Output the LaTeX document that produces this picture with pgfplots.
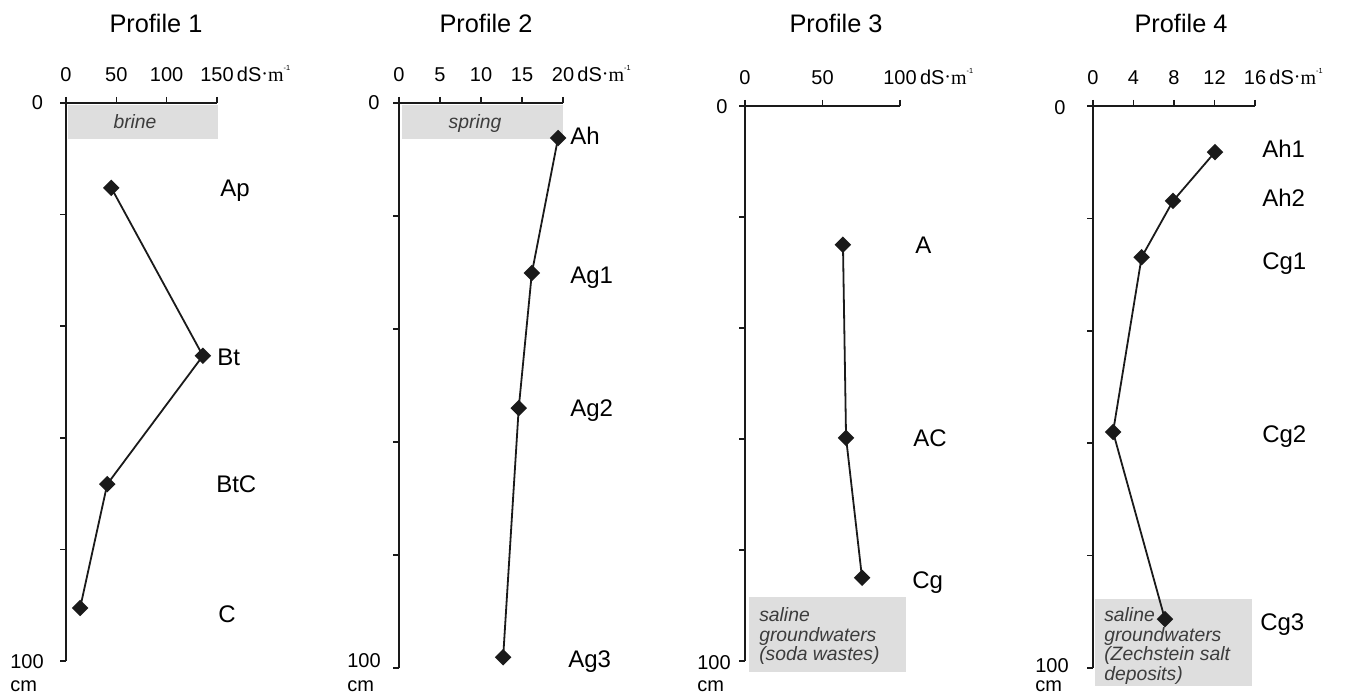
\documentclass[border=0pt]{standalone}
\usepackage{pgfplots}
\pgfplotsset{compat=1.18}
\usepackage{fontspec}
\setmainfont{Liberation Sans}
\newfontfamily\serifm{Liberation Serif}
\definecolor{boxgray}{HTML}{DEDEDE}
\definecolor{txtgray}{HTML}{3C3C3C}
\definecolor{ink}{HTML}{1A1A1A}
\newcommand{\unitlab}{\rlap{\hspace{2.5pt}dS{\serifm\raisebox{0.1ex}{·}m}\raisebox{1.0ex}{\fontsize{5.5}{5.5}\selectfont -1}}}
\newcommand{\lab}{\fontsize{18}{18}\selectfont}
\newcommand{\tlab}{\fontsize{15}{15}\selectfont}
\newcommand{\ttl}{\fontsize{19}{19}\selectfont}
\newcommand{\boxt}{\fontsize{14.5}{14.6}\selectfont\itshape\color{txtgray}}
\pgfplotsset{
  prof/.style={
    scale only axis, clip=false, enlargelimits=false,
    axis x line=top, axis y line=left,
    axis line style={-, ink, line width=1.2pt},
    ymin=-100, ymax=0,
    tick align=outside, major tick length=4.5pt,
    every tick/.style={ink, line width=1.2pt},
    ytick={-100,-80,-60,-40,-20,0}, yticklabels={},
    xticklabel style={font=\tlab, yshift=8pt},
  },
  dat/.style={ink, line width=1.35pt, mark=square*, mark size=3.7pt,
    mark options={rotate=45, solid, fill=ink}},
  bx/.style={fill=boxgray, draw=none, mark=none, forget plot},
}
\begin{document}
\begin{tikzpicture}
\useasboundingbox (0,0) rectangle (1345*0.75pt,-695*0.75pt);
% Profile 1
\begin{axis}[prof, at={(66*0.75pt,-103*0.75pt)}, anchor=north west,
  width=113.25pt, height=418.5pt,
  xmin=0, xmax=150, xtick={0,50,100,150}, xticklabels={0,50,100,{150\unitlab}}]
\addplot[bx] coordinates {(2,-0.36) (151,-0.36) (151,-6.45) (2,-6.45)} -- cycle;
\addplot[dat] coordinates {(45,-15.2) (136,-45.3) (41,-68.3) (14,-90.5)};
\end{axis}
% Profile 2
\begin{axis}[prof, at={(399*0.75pt,-103*0.75pt)}, anchor=north west,
  width=123pt, height=423.75pt,
  xmin=0, xmax=20, xtick={0,5,10,15,20}, xticklabels={0,5,10,15,{20\unitlab}}]
\addplot[bx] coordinates {(0.37,-0.35) (20,-0.35) (20,-6.37) (0.37,-6.37)} -- cycle;
\addplot[dat] coordinates {(19.4,-6.2) (16.2,-30.1) (14.6,-54.0) (12.7,-98.1)};
\end{axis}
% Profile 3
\begin{axis}[prof, at={(745*0.75pt,-106*0.75pt)}, anchor=north west,
  width=116.25pt, height=416.25pt,
  xmin=0, xmax=100, xtick={0,50,100}, xticklabels={0,50,{100\unitlab}}]
\addplot[bx] coordinates {(2.6,-88.5) (103.9,-88.5) (103.9,-102.0) (2.6,-102.0)} -- cycle;
\addplot[dat] coordinates {(63.2,-25.0) (65.2,-59.8) (75.5,-85.0)};
\end{axis}
% Profile 4
\begin{axis}[prof, at={(1093*0.75pt,-106*0.75pt)}, anchor=north west,
  width=121.5pt, height=421.5pt,
  xmin=0, xmax=16, xtick={0,4,8,12,16}, xticklabels={0,4,8,12,{16\unitlab}}]
\addplot[bx] coordinates {(0.2,-87.7) (15.7,-87.7) (15.7,-103.2) (0.2,-103.2)} -- cycle;
\addplot[dat] coordinates {(12.05,-8.2) (7.9,-16.9) (4.8,-26.9) (1.98,-58.0) (7.1,-91.3)};
\end{axis}
% titles
\node[font=\ttl, anchor=base] at (156*0.75pt,-33*0.75pt) {Profile 1};
\node[font=\ttl, anchor=base] at (486*0.75pt,-33*0.75pt) {Profile 2};
\node[font=\ttl, anchor=base] at (836*0.75pt,-33*0.75pt) {Profile 3};
\node[font=\ttl, anchor=base] at (1181*0.75pt,-33*0.75pt) {Profile 4};
% depth labels
\begin{scope}[every node/.style={font=\tlab, inner sep=0pt}]
\node[anchor=base] at (37.5*0.75pt,-110*0.75pt) {0};
\node[anchor=base west] at (10*0.75pt,-668*0.75pt) {100};
\node[anchor=base west] at (10*0.75pt,-691*0.75pt) {cm};
\node[anchor=base] at (374*0.75pt,-110*0.75pt) {0};
\node[anchor=base west] at (347*0.75pt,-667*0.75pt) {100};
\node[anchor=base west] at (347*0.75pt,-691*0.75pt) {cm};
\node[anchor=base] at (722*0.75pt,-114*0.75pt) {0};
\node[anchor=base west] at (697*0.75pt,-669*0.75pt) {100};
\node[anchor=base west] at (697*0.75pt,-691.5*0.75pt) {cm};
\node[anchor=base] at (1060*0.75pt,-115*0.75pt) {0};
\node[anchor=base west] at (1035*0.75pt,-672*0.75pt) {100};
\node[anchor=base west] at (1035*0.75pt,-691.5*0.75pt) {cm};
\end{scope}
% horizon labels
\begin{scope}[every node/.style={font=\lab, inner sep=0pt, anchor=base west}]
\node at (220*0.75pt,-197*0.75pt) {Ap};
\node at (217*0.75pt,-365*0.75pt) {Bt};
\node at (216*0.75pt,-492*0.75pt) {BtC};
\node at (218*0.75pt,-622*0.75pt) {C};
\node at (570*0.75pt,-145*0.75pt) {Ah};
\node at (570*0.75pt,-283*0.75pt) {Ag1};
\node at (570*0.75pt,-416*0.75pt) {Ag2};
\node at (568*0.75pt,-667*0.75pt) {Ag3};
\node at (915*0.75pt,-253*0.75pt) {A};
\node at (913*0.75pt,-446*0.75pt) {AC};
\node at (912*0.75pt,-588*0.75pt) {Cg};
\node at (1262*0.75pt,-158*0.75pt) {Ah1};
\node at (1262*0.75pt,-207*0.75pt) {Ah2};
\node at (1262*0.75pt,-270*0.75pt) {Cg1};
\node at (1262*0.75pt,-442*0.75pt) {Cg2};
\node at (1260*0.75pt,-630*0.75pt) {Cg3};
\end{scope}
% box texts
\begin{scope}[every node/.style={font=\boxt, inner sep=0pt, align=left}]
\node[anchor=base] at (135*0.75pt,-129*0.75pt) {brine};
\node[anchor=base] at (475*0.75pt,-129*0.75pt) {spring};
\node[anchor=base west] at (759*0.75pt,-660.5*0.75pt) {saline\\groundwaters\\(soda wastes)};
\node[anchor=base west] at (1104*0.75pt,-680*0.75pt) {saline\\groundwaters\\(Zechstein salt\\deposits)};
\end{scope}
\end{tikzpicture}
\end{document}
